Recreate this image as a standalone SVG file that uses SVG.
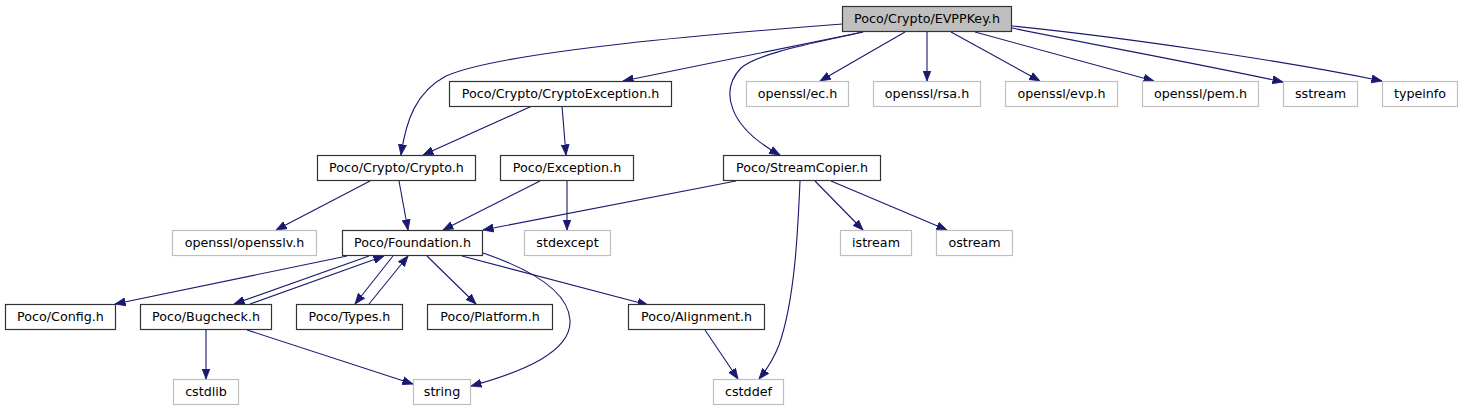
<svg xmlns="http://www.w3.org/2000/svg" width="1464" height="411" viewBox="0 0 1464 411">
<style>
.n rect{fill:#fff;stroke:#333;stroke-width:1.2}
.g rect{fill:#fff;stroke:#bfbfbf;stroke-width:1.2}
.cur rect{fill:#bfbfbf;stroke:#333;stroke-width:1.2}
text{font-family:"DejaVu Sans","Noto Sans",sans-serif;font-size:12.7px;fill:#000;text-anchor:middle}
.e path{fill:none;stroke:#191970;stroke-width:1.1;marker-end:url(#ah)}
</style>
<defs>
<marker id="ah" markerUnits="userSpaceOnUse" markerWidth="13" markerHeight="10" refX="10.5" refY="4" orient="auto" viewBox="0 0 13 8">
<path d="M0,0 L10.5,4 L0,8 z" fill="#191970" stroke="#191970" stroke-width="0.8"/>
</marker>
</defs>
<rect width="1464" height="411" fill="#fff"/>
<g class="e" id="edges">
<path d="M842,24 C740,32 505,50 446,76 C416,92 406,120 401,155"/>
<path d="M863,32 L623,81"/>
<path d="M863,32 C815,43 758,53 741,68 C720,90 727,126 780,155"/>
<path d="M905,32 L820,81"/>
<path d="M927,32 L927,81"/>
<path d="M951,32 L1040,81"/>
<path d="M975,32 L1154,81"/>
<path d="M1012,28 C1100,46 1200,64 1283,82"/>
<path d="M1012,26 C1120,37 1280,60 1382,81"/>
<path d="M532,106 L423,155"/>
<path d="M562,106 L566,155"/>
<path d="M370,181 L276,230"/>
<path d="M399,181 L408,230"/>
<path d="M540,181 L443,230"/>
<path d="M567,181 L567,230"/>
<path d="M736,181 L483,230"/>
<path d="M800,181 C798,228 795,300 779,345 C774,358 768,368 759,379"/>
<path d="M815,181 L863,230"/>
<path d="M831,181 L947,230"/>
<path d="M347,256 L115,304"/>
<path d="M369,256 L234,304"/>
<path d="M250,304 L384,256"/>
<path d="M393,256 L355,304"/>
<path d="M369,304 L408,256"/>
<path d="M427,256 L476,304"/>
<path d="M462,256 L648,305"/>
<path d="M483,253 C527,268 568,290 570,320 C572,352 522,372 471,386"/>
<path d="M206,330 L206,379"/>
<path d="M247,330 L413,384"/>
<path d="M705,330 L738,379"/>
</g>
<g id="n_evppkey" class="cur"><rect x="842.5" y="6.5" width="169" height="25"/><text x="927" y="23">Poco/Crypto/EVPPKey.h</text></g>
<g id="n_cryptoexception" class="n"><rect x="449.5" y="81.5" width="222" height="25"/><text x="560.5" y="98">Poco/Crypto/CryptoException.h</text></g>
<g id="n_ec" class="g"><rect x="746.5" y="81.5" width="102" height="25"/><text x="797.5" y="98">openssl/ec.h</text></g>
<g id="n_rsa" class="g"><rect x="873.5" y="81.5" width="107" height="25"/><text x="927" y="98">openssl/rsa.h</text></g>
<g id="n_evp" class="g"><rect x="1005.5" y="81.5" width="112" height="25"/><text x="1061.5" y="98">openssl/evp.h</text></g>
<g id="n_pem" class="g"><rect x="1142.5" y="81.5" width="116" height="25"/><text x="1200.5" y="98">openssl/pem.h</text></g>
<g id="n_sstream" class="g"><rect x="1283.5" y="81.5" width="74" height="25"/><text x="1320.5" y="98">sstream</text></g>
<g id="n_typeinfo" class="g"><rect x="1382.5" y="81.5" width="75" height="25"/><text x="1420" y="98">typeinfo</text></g>
<g id="n_crypto" class="n"><rect x="317.5" y="155.5" width="158" height="25"/><text x="396.5" y="172">Poco/Crypto/Crypto.h</text></g>
<g id="n_exception" class="n"><rect x="500.5" y="155.5" width="133" height="25"/><text x="567" y="172">Poco/Exception.h</text></g>
<g id="n_streamcopier" class="n"><rect x="723.5" y="155.5" width="157" height="25"/><text x="802" y="172">Poco/StreamCopier.h</text></g>
<g id="n_opensslv" class="g"><rect x="172.5" y="230.5" width="144" height="25"/><text x="244.5" y="247">openssl/opensslv.h</text></g>
<g id="n_foundation" class="n"><rect x="342.5" y="230.5" width="140" height="25"/><text x="412.5" y="247">Poco/Foundation.h</text></g>
<g id="n_stdexcept" class="g"><rect x="524.5" y="230.5" width="86" height="25"/><text x="567.5" y="247">stdexcept</text></g>
<g id="n_istream" class="g"><rect x="840.5" y="230.5" width="71" height="25"/><text x="876" y="247">istream</text></g>
<g id="n_ostream" class="g"><rect x="936.5" y="230.5" width="76" height="25"/><text x="974.5" y="247">ostream</text></g>
<g id="n_config" class="n"><rect x="5.5" y="304.5" width="110" height="25"/><text x="60.5" y="321">Poco/Config.h</text></g>
<g id="n_bugcheck" class="n"><rect x="140.5" y="304.5" width="131" height="25"/><text x="206" y="321">Poco/Bugcheck.h</text></g>
<g id="n_types" class="n"><rect x="296.5" y="304.5" width="106" height="25"/><text x="349.5" y="321">Poco/Types.h</text></g>
<g id="n_platform" class="n"><rect x="427.5" y="304.5" width="125" height="25"/><text x="490" y="321">Poco/Platform.h</text></g>
<g id="n_alignment" class="n"><rect x="628.5" y="304.5" width="136" height="25"/><text x="696.5" y="321">Poco/Alignment.h</text></g>
<g id="n_cstdlib" class="g"><rect x="173.5" y="379.5" width="65" height="25"/><text x="206" y="396">cstdlib</text></g>
<g id="n_string" class="g"><rect x="413.5" y="379.5" width="57" height="25"/><text x="442" y="396">string</text></g>
<g id="n_cstddef" class="g"><rect x="713.5" y="379.5" width="70" height="25"/><text x="748.5" y="396">cstddef</text></g>
</svg>
